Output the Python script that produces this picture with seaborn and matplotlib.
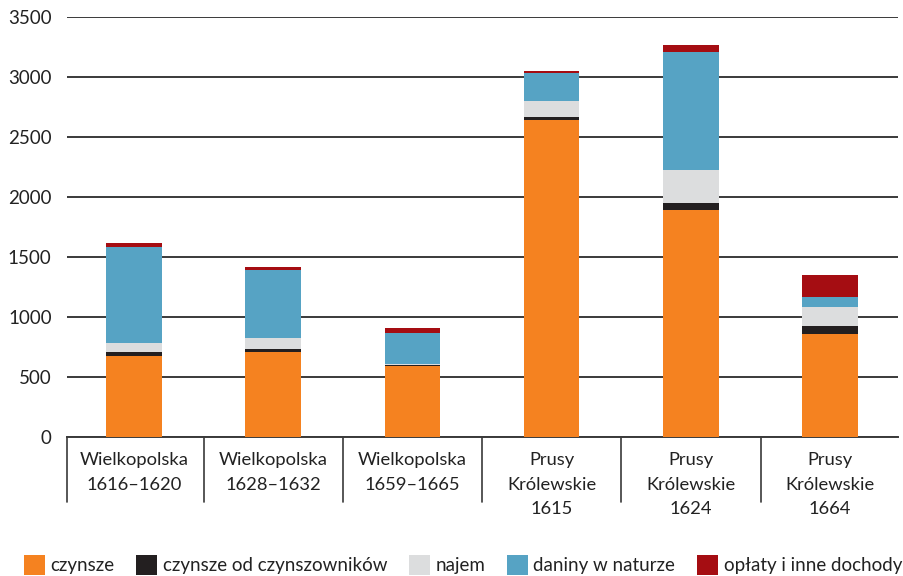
import numpy as np
import pandas as pd
import matplotlib
matplotlib.use('Agg')
import matplotlib.pyplot as plt
import matplotlib.transforms as mtransforms
from matplotlib.patches import Patch
import seaborn as sns

# dane
okresy = ['Wielkopolska\n1616–1620', 'Wielkopolska\n1628–1632', 'Wielkopolska\n1659–1665',
          'Prusy\nKrólewskie\n1615', 'Prusy\nKrólewskie\n1624', 'Prusy\nKrólewskie\n1664']
czynsze = [678, 711, 592, 2644, 1894, 858]
czynsze_od = [30, 22, 10, 23, 59, 67]
najem = [78, 92, 5, 133, 275, 158]
daniny = [800, 569, 264, 233, 983, 84]
oplaty = [28, 23, 36, 17, 56, 183]

serie = ['czynsze', 'czynsze od czynszowników', 'najem', 'daniny w naturze', 'opłaty i inne dochody']
kolory = ['#F58220', '#231F20', '#DCDDDE', '#56A3C4', '#A50D12']

df = pd.DataFrame({'okres': okresy, serie[0]: czynsze, serie[1]: czynsze_od,
                   serie[2]: najem, serie[3]: daniny, serie[4]: oplaty})
skum = df[serie].cumsum(axis=1)
skum['okres'] = df['okres']

sns.set_style('white')
plt.rcParams['font.family'] = ['Lato', 'DejaVu Sans']

fig = plt.figure(figsize=(9.04, 5.76), dpi=100)
ax = fig.add_axes([0.074, 0.241, 0.919, 0.7295])

# słupki skumulowane - rysowane od góry, żeby niższe przykrywały wyższe
for nazwa, kolor in reversed(list(zip(serie, kolory))):
    sns.barplot(data=skum, x='okres', y=nazwa, color=kolor, width=0.4,
                saturation=1, linewidth=0, ax=ax, zorder=3)

lewa = -0.481
ax.set_ylim(0, 3500)
ax.set_xlim(lewa, 5.485)
ax.set_yticks(range(0, 3501, 500))
ax.yaxis.grid(True, color='#3a3a3a', linewidth=1.4, zorder=0)
ax.set_axisbelow(True)
for s in ['left', 'right', 'top']:
    ax.spines[s].set_visible(False)
ax.spines['bottom'].set_color('#3a3a3a')
ax.spines['bottom'].set_linewidth(1.4)
ax.set_xlabel('')
ax.set_ylabel('')
ax.tick_params(axis='y', length=0, labelsize=13.5, colors='#222222', pad=11)
ax.tick_params(axis='x', length=0, labelsize=13.2, colors='#222222', pad=11)
for lab in ax.get_xticklabels():
    lab.set_verticalalignment('top')
    lab.set_linespacing(1.62)

# pionowe linie między kategoriami
trans = mtransforms.blended_transform_factory(ax.transData, ax.transAxes)
granice = [lewa] + list(np.arange(1, len(okresy)) - 0.5)
for b in granice:
    ax.plot([b, b], [0, -0.155], transform=trans, color='#3a3a3a', lw=1.2, clip_on=False)

uchwyty = [Patch(facecolor=k, edgecolor='none', label=n) for n, k in zip(serie, kolory)]
fig.legend(handles=uchwyty, loc='lower center', bbox_to_anchor=(0.512, 0.0), ncol=5,
           frameon=False, fontsize=13.5, handlelength=1.12, handleheight=1.25,
           handletextpad=0.3, columnspacing=1.15, labelcolor='#222222',
           borderpad=0.05, borderaxespad=0)

fig.savefig('out.png', dpi=100)
